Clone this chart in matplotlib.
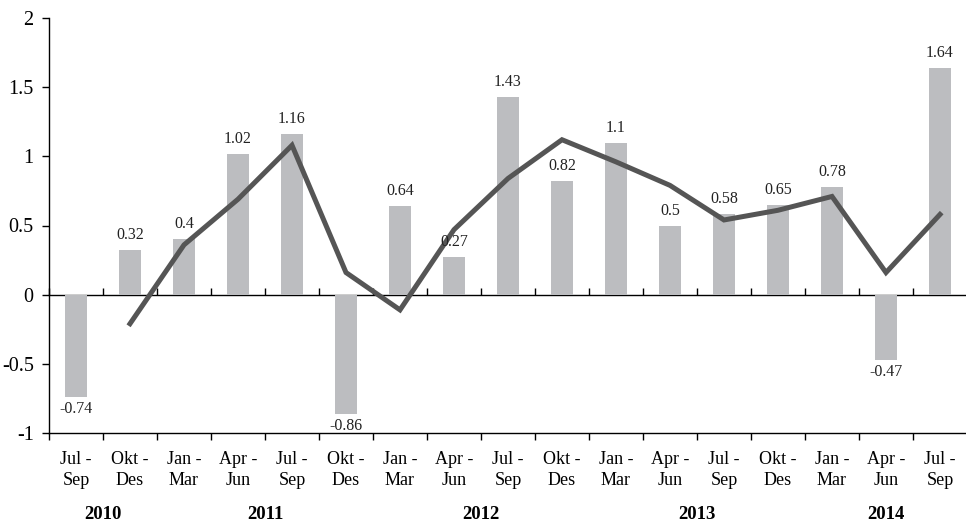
import numpy as np
import matplotlib.pyplot as plt

# quarterly categories (Jul-Sep 2010 .. Jul-Sep 2014)
quarters = ['Jul -\nSep', 'Okt -\nDes', 'Jan -\nMar', 'Apr -\nJun',
            'Jul -\nSep', 'Okt -\nDes', 'Jan -\nMar', 'Apr -\nJun',
            'Jul -\nSep', 'Okt -\nDes', 'Jan -\nMar', 'Apr -\nJun',
            'Jul -\nSep', 'Okt -\nDes', 'Jan -\nMar', 'Apr -\nJun',
            'Jul -\nSep']
bar_values = [-0.74, 0.32, 0.4, 1.02, 1.16, -0.86, 0.64, 0.27, 1.43,
              0.82, 1.1, 0.5, 0.58, 0.65, 0.78, -0.47, 1.64]
# line series starts at the second quarter
line_values = [np.nan, -0.21, 0.36, 0.69, 1.08, 0.16, -0.11, 0.47, 0.84,
               1.12, 0.96, 0.79, 0.54, 0.61, 0.71, 0.16, 0.58]
years = ['2010', '2011', '2012', '2013', '2014']
year_pos = [0.5, 3.5, 7.5, 11.5, 15.0]

plt.rcParams['font.family'] = ['Liberation Serif', 'DejaVu Serif']

fig = plt.figure(figsize=(9.66, 5.23), dpi=100)
ax = fig.add_axes([49/966, 90/523, 918/966, 415/523])

x = np.arange(len(bar_values))
ax.bar(x, bar_values, width=0.4, color='#bcbdc0', zorder=2)
ax.plot(x, line_values, color='#555555', lw=3.6, zorder=3,
        solid_joinstyle='miter')

for xi, v in zip(x, bar_values):
    if v >= 0:
        ax.annotate(f'{v:g}', (xi, v), xytext=(0, 5), textcoords='offset points',
                    ha='center', va='bottom', fontsize=11.5, color='#222222')
    else:
        ax.annotate(f'{v:g}', (xi, v), xytext=(0, -3), textcoords='offset points',
                    ha='center', va='top', fontsize=11.5, color='#222222')

ax.set_xlim(-0.5, len(bar_values) - 0.5)
ax.set_ylim(-1, 2)
yt = np.arange(-1, 2.01, 0.5)
ax.set_yticks(yt)
ax.set_yticklabels([f'{t:g}' for t in yt], fontsize=14.5)
ax.tick_params(axis='y', length=5, width=1, pad=6)

# category labels at centres, tick marks at boundaries
ax.set_xticks(x)
ax.set_xticklabels(quarters, fontsize=13, linespacing=1.3)
ax.tick_params(axis='x', which='major', length=0, pad=13)
ax.set_xticks(np.arange(-0.5, len(bar_values), 1), minor=True)
ax.tick_params(axis='x', which='minor', length=5, width=1)

for s in ['top', 'right']:
    ax.spines[s].set_visible(False)
for s in ['left', 'bottom']:
    ax.spines[s].set_linewidth(1)

# zero line with its own boundary ticks
zero = ax.secondary_xaxis(1/3)
zero.set_xticks(np.arange(-0.5, len(bar_values), 1))
zero.tick_params(axis='x', length=5, width=1, direction='in', labeltop=False,
                 labelbottom=False)
zero.spines['top'].set_linewidth(1)
zero.spines['bottom'].set_linewidth(1)

for y_lbl, xp in zip(years, year_pos):
    ax.text(xp, -0.197, y_lbl, transform=ax.get_xaxis_transform(), ha='center',
            va='center', fontsize=13.5, fontweight='bold')

fig.savefig('out.png', dpi=100)
